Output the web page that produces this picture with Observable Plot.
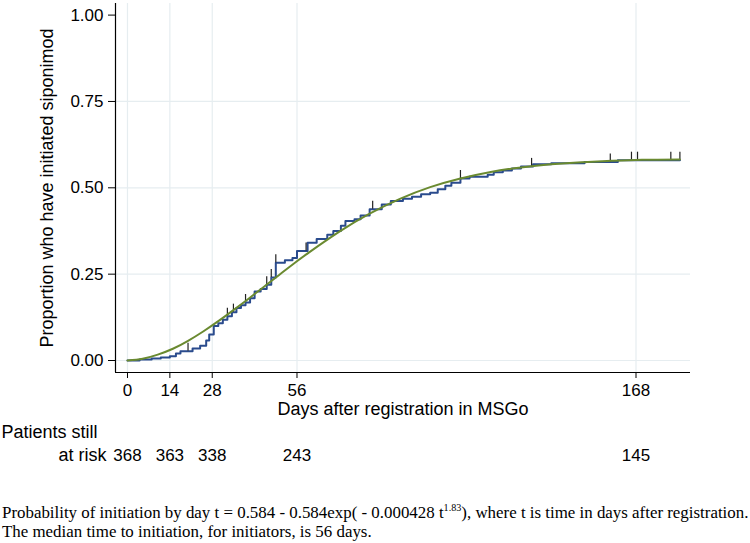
<!DOCTYPE html>
<html><head><meta charset="utf-8">
<script src="https://cdn.jsdelivr.net/npm/d3@7"></script>
<script src="https://cdn.jsdelivr.net/npm/@observablehq/plot@0.6"></script>
<style>
body{margin:0;background:#fff;}
#caption{font-family:"Liberation Serif","Times New Roman",serif;font-size:16.9px;line-height:19px;margin:0;padding:7px 0 0 2px;white-space:nowrap;color:#000}
#caption sup{font-size:0.6em;vertical-align:super;line-height:0}
</style></head><body>
<div id="chart"></div>
<div id="caption">Probability of initiation by day t = 0.584 - 0.584exp( - 0.000428 t<sup>1.83</sup>), where t is time in days after registration.<br>The median time to initiation, for initiators, is 56 days.</div>
<script>
const xTicks = [0, 14, 28, 56, 168];
const yTicks = [0, 0.25, 0.5, 0.75, 1];
const riskDays = [0, 14, 28, 56, 168];
const riskCounts = [368, 363, 338, 243, 145];

const kmDays = [0, 4, 8, 11, 14, 16, 17.5, 21.5, 24, 26, 27, 28.5, 30, 31.5, 33, 34.5, 36, 37.5, 39, 40.5, 42, 44, 46, 47.5, 49, 52, 54.5, 56, 59.5, 62.5, 66, 68, 70.5, 72, 75, 77, 80, 84, 87, 91, 94, 97, 100, 102.5, 105, 107, 110, 113, 119, 121, 124, 127, 130, 134, 140, 151, 162, 182.5];
const kmValues = [0, 0.003, 0.006, 0.009, 0.012, 0.02, 0.027, 0.035, 0.043, 0.058, 0.075, 0.1, 0.108, 0.118, 0.128, 0.14, 0.152, 0.16, 0.168, 0.18, 0.2, 0.207, 0.219, 0.24, 0.283, 0.29, 0.297, 0.317, 0.341, 0.352, 0.364, 0.375, 0.39, 0.404, 0.409, 0.42, 0.438, 0.452, 0.462, 0.468, 0.474, 0.481, 0.486, 0.496, 0.506, 0.515, 0.527, 0.532, 0.538, 0.545, 0.55, 0.556, 0.562, 0.568, 0.571, 0.575, 0.58, 0.58];

const censorDays = [20, 33, 35, 39, 46, 47.5, 49, 59, 81, 110, 133.5, 159.5, 166.5, 168.5, 179.5, 182.5];

const fitDays = [0, 5, 10, 15, 20, 25, 30, 35, 40, 45, 50, 55, 60, 70, 80, 90, 100, 110, 120, 130, 140, 150, 160, 170, 182.5];
const fitValues = [0, 0.005, 0.017, 0.034, 0.057, 0.084, 0.114, 0.146, 0.179, 0.213, 0.247, 0.281, 0.313, 0.373, 0.425, 0.468, 0.502, 0.527, 0.546, 0.559, 0.568, 0.574, 0.578, 0.581, 0.582];

const km = kmDays.map((d, i) => ({day: d, p: kmValues[i]}));
const fit = fitDays.map((d, i) => ({day: d, p: fitValues[i]}));
const kmAt = d => { let v = kmValues[0]; for (let i = 0; i < kmDays.length; i++) if (kmDays[i] <= d) v = kmValues[i]; return v; };
const censors = censorDays.map(d => ({day: d, p: kmAt(d)}));
const risk = riskDays.map((d, i) => ({day: d, n: riskCounts[i]}));

const xDomain = [-3.96, 186];
const yDomain = [-0.0347, 1.0336];
const font = "'Liberation Sans', Arial, sans-serif";
const gridColor = "#e6edf0";

const chart = Plot.plot({
  width: 750, height: 496,
  marginLeft: 115, marginRight: 60, marginTop: 3, marginBottom: 124,
  style: {fontFamily: font, fontSize: "17px", color: "#000", background: "#fff"},
  x: {domain: xDomain},
  y: {domain: yDomain},
  marks: [
    Plot.gridY(yTicks.filter(v => v < 1), {stroke: gridColor, strokeOpacity: 1, strokeWidth: 1.2}),
    Plot.gridX(xTicks, {stroke: gridColor, strokeOpacity: 1, strokeWidth: 1.2}),
    Plot.axisY(yTicks, {tickFormat: d3.format(".2f"), tickSize: 7, tickPadding: 5, label: null, fontSize: 17}),
    Plot.axisX(xTicks, {tickSize: 6, tickPadding: 5, label: null, fontSize: 17}),
    Plot.ruleX([xDomain[0]], {stroke: "#000", strokeWidth: 1.2}),
    Plot.ruleY([yDomain[0]], {stroke: "#000", strokeWidth: 1.2}),
    Plot.line(km, {x: "day", y: "p", curve: "step-after", stroke: "#2a4b8d", strokeWidth: 2}),
    Plot.ruleX(censors, {x: "day", y1: "p", y2: "p", insetTop: -8, stroke: "#222", strokeWidth: 1.2}),
    Plot.line(fit, {x: "day", y: "p", curve: "natural", stroke: "#6a8a30", strokeWidth: 2}),
    Plot.text(["Days after registration in MSGo"], {text: d => d, frameAnchor: "bottom", dy: 42, fontSize: 18}),
    Plot.text(risk, {x: "day", text: "n", frameAnchor: "bottom", dy: 88, fontSize: 17}),
    Plot.text(["Patients still"], {text: d => d, frameAnchor: "bottom-left", textAnchor: "start", dx: -114, dy: 65, fontSize: 18}),
    Plot.text(["at risk"], {text: d => d, frameAnchor: "bottom-left", textAnchor: "end", dx: -9, dy: 88, fontSize: 18}),
    Plot.text(["Proportion who have initiated siponimod"], {text: d => d, frameAnchor: "left", textAnchor: "middle", rotate: -90, dx: -68, fontSize: 18})
  ]
});
document.getElementById("chart").appendChild(chart);
</script>
</body></html>
